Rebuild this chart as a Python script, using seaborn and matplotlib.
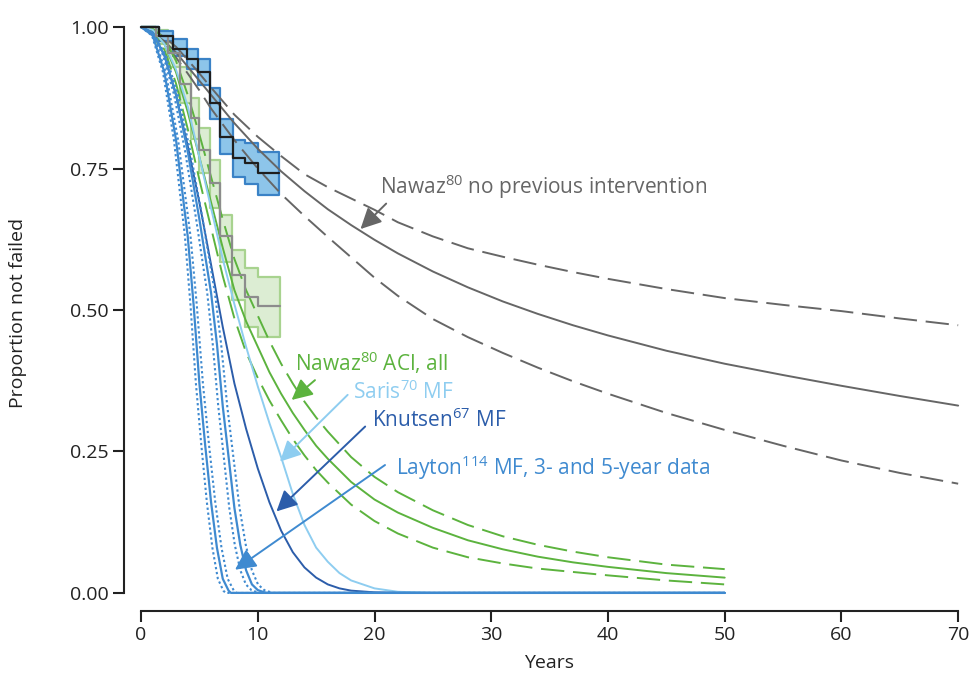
import matplotlib
matplotlib.use("Agg")
import matplotlib.pyplot as plt
from matplotlib import font_manager
import seaborn as sns

# ---------------- data ----------------
# Nawaz, no previous intervention: model fit with confidence bounds (years, proportion)
npi_t = [0, 1, 2, 3, 4, 5, 6, 8, 10, 12, 14, 16, 18, 20, 22, 25, 28, 31, 34, 37, 40, 45, 50, 55, 60, 65, 70]
npi_s = [1, 0.99, 0.975, 0.955, 0.93, 0.905, 0.88, 0.83, 0.785, 0.745, 0.71, 0.678, 0.65, 0.624, 0.6,
         0.568, 0.54, 0.515, 0.493, 0.473, 0.455, 0.428, 0.405, 0.385, 0.366, 0.348, 0.331]
npi_hi = [1, 0.995, 0.982, 0.965, 0.942, 0.918, 0.893, 0.845, 0.806, 0.772, 0.74, 0.717, 0.697, 0.677,
          0.655, 0.63, 0.609, 0.594, 0.58, 0.567, 0.555, 0.537, 0.521, 0.509, 0.498, 0.485, 0.473]
npi_lo = [1, 0.99, 0.97, 0.946, 0.918, 0.888, 0.856, 0.8, 0.75, 0.705, 0.666, 0.629, 0.593, 0.557,
          0.525, 0.484, 0.452, 0.424, 0.398, 0.374, 0.352, 0.318, 0.288, 0.26, 0.234, 0.212, 0.193]

# Nawaz ACI, all: model fit with confidence bounds
aci_t = [0, 1, 2, 3, 4, 5, 6, 7, 8, 9, 10, 11, 12, 13, 14, 15, 16, 18, 20, 22, 25, 28, 31, 34, 37, 40, 45, 50]
aci_s = [1, 0.995, 0.97, 0.92, 0.85, 0.77, 0.69, 0.61, 0.535, 0.48, 0.435, 0.39, 0.352, 0.318, 0.288,
         0.26, 0.237, 0.196, 0.165, 0.142, 0.115, 0.093, 0.077, 0.064, 0.054, 0.046, 0.035, 0.027]
aci_hi = [1, 0.997, 0.98, 0.94, 0.88, 0.81, 0.735, 0.66, 0.59, 0.535, 0.49, 0.445, 0.405, 0.37, 0.338,
          0.31, 0.285, 0.24, 0.205, 0.178, 0.146, 0.12, 0.1, 0.085, 0.073, 0.063, 0.05, 0.042]
aci_lo = [1, 0.993, 0.96, 0.9, 0.82, 0.73, 0.645, 0.56, 0.485, 0.425, 0.38, 0.34, 0.305, 0.272, 0.243,
          0.217, 0.195, 0.156, 0.127, 0.105, 0.08, 0.063, 0.052, 0.043, 0.037, 0.031, 0.022, 0.015]

# Saris MF
saris_t = [0, 1, 2, 3, 4, 5, 6, 7, 8, 9, 10, 11, 12, 13, 14, 15, 16, 17, 18, 20, 22, 25, 50]
saris_s = [1, 0.995, 0.97, 0.925, 0.86, 0.77, 0.68, 0.59, 0.51, 0.435, 0.365, 0.3, 0.24, 0.175, 0.12,
           0.08, 0.055, 0.035, 0.022, 0.008, 0.002, 0, 0]

# Knutsen MF
knut_t = [0, 1, 2, 3, 4, 5, 6, 7, 8, 9, 10, 11, 12, 13, 14, 15, 16, 17, 18, 20, 22, 25, 50]
knut_s = [1, 0.99, 0.95, 0.88, 0.79, 0.69, 0.58, 0.47, 0.37, 0.29, 0.22, 0.16, 0.11, 0.072, 0.045,
          0.027, 0.015, 0.008, 0.004, 0.001, 0, 0, 0]

# Layton MF, 3-year data (fit and bounds)
lay3_s = [1, 0.985, 0.92, 0.80, 0.63, 0.51, 0.37, 0.26, 0.16, 0.08, 0.025, 0.004, 0, 0]
lay3_t = [0, 1, 2, 3, 4, 4.5, 5, 5.5, 6, 6.5, 7, 7.5, 7.7, 50]
lay3_lo_t = [0, 0.94, 1.88, 2.82, 3.76, 4.23, 4.7, 5.17, 5.64, 6.11, 6.58, 7.05, 7.24, 50]
lay3_hi_t = [0, 1.06, 2.12, 3.18, 4.24, 4.77, 5.3, 5.83, 6.36, 6.89, 7.42, 7.95, 8.16, 50]

# Layton MF, 5-year data (fit and bounds)
lay5_s = [1, 0.99, 0.95, 0.88, 0.78, 0.66, 0.53, 0.44, 0.33, 0.24, 0.15, 0.085, 0.04, 0.015, 0.005, 0, 0]
lay5_t = [0, 1, 2, 3, 4, 5, 6, 6.5, 7, 7.5, 8, 8.5, 9, 9.5, 10, 10.7, 50]
lay5_lo_t = [0, 0.945, 1.89, 2.835, 3.78, 4.725, 5.67, 6.14, 6.615, 7.09, 7.56, 8.03, 8.505, 8.98, 9.45, 10.11, 50]
lay5_hi_t = [0, 1.055, 2.11, 3.165, 4.22, 5.275, 6.33, 6.86, 7.385, 7.91, 8.44, 8.97, 9.495, 10.02, 10.55, 11.29, 50]

# Kaplan-Meier estimates with confidence bands
km_npi_t = [0, 1.5, 2.74, 3.9, 4.9, 5.9, 6.8, 7.9, 8.9, 10.05, 11.8]
km_npi_s = [1, 0.984, 0.962, 0.944, 0.921, 0.865, 0.806, 0.768, 0.759, 0.742, 0.742]
km_npi_lo = [1, 0.975, 0.948, 0.925, 0.898, 0.838, 0.775, 0.735, 0.722, 0.703, 0.703]
km_npi_hi = [1, 0.993, 0.978, 0.962, 0.944, 0.892, 0.837, 0.801, 0.795, 0.779, 0.779]

km_aci_t = [0, 1.3, 2.3, 3.3, 4.3, 5.0, 5.9, 6.8, 7.8, 8.9, 10.05, 11.9]
km_aci_s = [1, 0.985, 0.955, 0.90, 0.84, 0.783, 0.724, 0.63, 0.562, 0.523, 0.507, 0.507]
km_aci_hi = [1, 0.995, 0.975, 0.93, 0.875, 0.822, 0.765, 0.668, 0.606, 0.574, 0.559, 0.559]
km_aci_lo = [1, 0.97, 0.93, 0.866, 0.802, 0.742, 0.68, 0.585, 0.518, 0.47, 0.453, 0.453]

y_ticks = [0, 0.25, 0.5, 0.75, 1.0]
y_tick_labels = ["0.00", "0.25", "0.50", "0.75", "1.00"]
x_ticks = [0, 10, 20, 30, 40, 50, 60, 70]

# ---------------- style ----------------
GRAY = "#666666"
GREEN = "#5cb33e"
LIGHTBLUE = "#8ecdf0"
DARKBLUE = "#2c5daa"
MIDBLUE = "#3f8ad0"
INK = "#222222"
DASH = (0, (12, 4.5))
DOT = (0, (1.1, 1.3))

sns.set_theme(style="white")
plt.rcParams["font.family"] = ["Open Sans", "DejaVu Sans"]
plt.rcParams["mathtext.fontset"] = "custom"
plt.rcParams["mathtext.rm"] = "Open Sans"

installed = {f.name for f in font_manager.fontManager.ttflist}
if "Liberation Sans Narrow" in installed:
    tick_font, tick_size = "Liberation Sans Narrow", 15
else:
    tick_font, tick_size = "Open Sans", 14

fig = plt.figure(figsize=(9.71, 6.75), dpi=100)
ax = fig.add_axes([0.1277, 0.0948, 0.8651, 0.8819])


def curve(t, s, color, ls="-", lw=1.4, z=3):
    sns.lineplot(x=t, y=s, color=color, linestyle=ls, linewidth=lw, ax=ax,
                 estimator=None, sort=False, legend=False, zorder=z)


# confidence bands of the Kaplan-Meier curves
ax.fill_between(km_aci_t, km_aci_lo, km_aci_hi, step="post", facecolor="#dcedd3",
                edgecolor="#a8d38f", linewidth=1.6, zorder=1)
ax.fill_between(km_npi_t, km_npi_lo, km_npi_hi, step="post", facecolor="#8dc5ea",
                edgecolor="#3a82c6", linewidth=1.6, zorder=1)

# no previous intervention
curve(npi_t, npi_s, GRAY)
curve(npi_t, npi_hi, GRAY, DASH)
curve(npi_t, npi_lo, GRAY, DASH)

# ACI, all
curve(aci_t, aci_s, GREEN)
curve(aci_t, aci_hi, GREEN, DASH)
curve(aci_t, aci_lo, GREEN, DASH)

# microfracture studies
curve(saris_t, saris_s, LIGHTBLUE)
curve(knut_t, knut_s, DARKBLUE)
curve(lay3_t, lay3_s, MIDBLUE, lw=1.6)
curve(lay3_lo_t, lay3_s, MIDBLUE, DOT, lw=1.5)
curve(lay3_hi_t, lay3_s, MIDBLUE, DOT, lw=1.5)
curve(lay5_t, lay5_s, MIDBLUE, lw=1.6)
curve(lay5_lo_t, lay5_s, MIDBLUE, DOT, lw=1.5)
curve(lay5_hi_t, lay5_s, MIDBLUE, DOT, lw=1.5)

# Kaplan-Meier steps
sns.lineplot(x=km_aci_t, y=km_aci_s, color="#8c8c8c", linewidth=1.6, drawstyle="steps-post",
             estimator=None, sort=False, legend=False, ax=ax, zorder=4)
sns.lineplot(x=km_npi_t, y=km_npi_s, color="#1e1e1e", linewidth=1.6, drawstyle="steps-post",
             estimator=None, sort=False, legend=False, ax=ax, zorder=4)

# labels with arrows
labels = [
    (r"Nawaz$^{\mathregular{80}}$ no previous intervention", GRAY, (20.5, 0.717), (21.0, 0.688), (18.8, 0.643)),
    (r"Nawaz$^{\mathregular{80}}$ ACI, all", GREEN, (13.2, 0.406), (14.9, 0.376), (12.9, 0.341)),
    (r"Saris$^{\mathregular{70}}$ MF", LIGHTBLUE, (18.2, 0.355), (17.7, 0.350), (11.9, 0.232)),
    (r"Knutsen$^{\mathregular{67}}$ MF", DARKBLUE, (19.8, 0.306), (19.2, 0.294), (11.6, 0.144)),
    (r"Layton$^{\mathregular{114}}$ MF, 3- and 5-year data", MIDBLUE, (21.8, 0.221), (20.9, 0.226), (8.05, 0.041)),
]
for text, col, tpos, start, tip in labels:
    ax.text(tpos[0], tpos[1], text, color=col, fontsize=15, ha="left", va="center", zorder=6)
    ax.annotate("", xy=tip, xytext=start, zorder=6,
                arrowprops=dict(arrowstyle="-|>,head_length=0.7,head_width=0.35", color=col, lw=1.4,
                                shrinkA=0, shrinkB=0, mutation_scale=18))

# axes in detached style
ax.set_xlim(-1.46, 70.5)
ax.set_ylim(-0.032, 1.02)
for side in ["top", "right"]:
    ax.spines[side].set_visible(False)
for side in ["left", "bottom"]:
    ax.spines[side].set_color(INK)
    ax.spines[side].set_linewidth(1.5)
ax.spines["left"].set_bounds(0, 1)
ax.spines["bottom"].set_bounds(0, 70)
ax.set_yticks(y_ticks)
ax.set_yticklabels(y_tick_labels)
ax.set_xticks(x_ticks)
ax.tick_params(axis="both", which="major", direction="out", length=8, width=1.5,
               color=INK, labelsize=tick_size, labelcolor=INK, left=True, bottom=True, pad=3)
for lab in ax.get_xticklabels() + ax.get_yticklabels():
    lab.set_family(tick_font)
ax.set_xlabel("Years", fontsize=14, color=INK)
ax.set_ylabel("Proportion not failed", fontsize=14, color=INK)
ax.xaxis.set_label_coords(0.506, -0.072)
ax.yaxis.set_label_coords(-0.115, 0.5)
ax.grid(False)

fig.savefig("out.png", dpi=100)
